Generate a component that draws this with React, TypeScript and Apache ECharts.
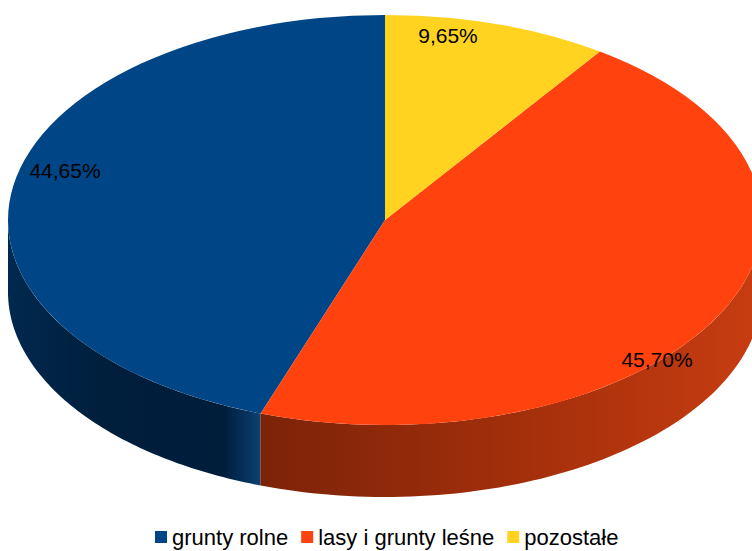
import React, { useEffect, useRef } from "react";
import * as echarts from "echarts";

// ---- data ----
const categories: string[] = ["grunty rolne", "lasy i grunty leśne", "pozostałe"];
const values: number[] = [44.65, 45.7, 9.65];

// ---- styles / layout ----
const topColors = ["#004586", "#ff420e", "#ffd320"];
const sideGradients: [number, string][][] = [
  [[0, "#00294f"], [0.35, "#001f3d"], [0.85, "#001d3a"], [0.94, "#06325c"], [1, "#0e4272"]],
  [[0, "#7c2308"], [0.3, "#922a0a"], [0.7, "#b1340c"], [1, "#c83d12"]],
  [[0, "#a08012"], [1, "#c9a318"]],
];
const CX = 385;
const CY = 220;
const RX = 377;
const RY = 205;
const DEPTH = 72;
const labelOffsets: [number, number][] = [[-320, -50], [272, 139], [63, -185]];
const FONT = '"Liberation Sans", Arial, sans-serif';
const FONT_SIZE = 21;
const LEGEND_FONT_SIZE = 22;

const total = values.reduce((a, b) => a + b, 0);

// slice i angles, measured clockwise from 12 o'clock (degrees); data goes counter-clockwise
function sliceRange(i: number): [number, number] {
  let before = 0;
  for (let k = 0; k < i; k++) before += values[k];
  const end = 360 - (before / total) * 360;
  const start = end - (values[i] / total) * 360;
  return [start, end];
}

function pt(thetaDeg: number, dy = 0): number[] {
  const t = (thetaDeg * Math.PI) / 180;
  return [CX + RX * Math.sin(t), CY - RY * Math.cos(t) + dy];
}

function fmt(v: number): string {
  return v.toFixed(2).replace(".", ",") + "%";
}

export default function App() {
  const ref = useRef<HTMLDivElement>(null);
  useEffect(() => {
    if (!ref.current) return;
    const chart = echarts.init(ref.current, undefined, { renderer: "svg" });

    const sideSeries: any = {
      type: "custom",
      name: "_sides",
      coordinateSystem: "none",
      silent: true,
      z: 1,
      data: values.map((v, i) => [v, i]),
      renderItem: (params: any, api: any) => {
        const i = params.dataIndex;
        const [s, e] = sliceRange(i);
        const a = Math.max(s, 90);
        const b = Math.min(e, 270);
        if (b <= a) return { type: "group", children: [] };
        const pts: number[][] = [];
        const n = 80;
        for (let k = 0; k <= n; k++) pts.push(pt(a + ((b - a) * k) / n));
        for (let k = n; k >= 0; k--) pts.push(pt(a + ((b - a) * k) / n, DEPTH));
        const xs = pts.map((p) => p[0]);
        const x0 = Math.min(...xs);
        const x1 = Math.max(...xs);
        return {
          type: "polygon",
          shape: { points: pts },
          style: {
            fill: new echarts.graphic.LinearGradient(
              x0, 0, x1, 0,
              sideGradients[i].map(([o, c]) => ({ offset: o, color: c })),
              true
            ),
            stroke: null,
          },
        };
      },
    };

    const topSeries: any[] = categories.map((name, i) => ({
      type: "custom",
      name,
      coordinateSystem: "none",
      silent: true,
      z: 2,
      itemStyle: { color: topColors[i] },
      data: [[values[i]]],
      renderItem: (params: any, api: any) => {
        const v = api.value(0);
        const [s, e] = sliceRange(i);
        const sa = ((s - 90) * Math.PI) / 180;
        const ea = ((e - 90) * Math.PI) / 180;
        return {
          type: "group",
          children: [
            {
              type: "group",
              x: CX,
              y: CY,
              scaleY: RY / RX,
              children: [
                {
                  type: "sector",
                  shape: { cx: 0, cy: 0, r: RX, r0: 0, startAngle: sa, endAngle: ea, clockwise: true },
                  style: { fill: topColors[i], stroke: null },
                },
              ],
            },
            {
              type: "text",
              x: CX + labelOffsets[i][0],
              y: CY + labelOffsets[i][1],
              z2: 10,
              style: {
                text: fmt(v),
                fill: "#000",
                fontSize: FONT_SIZE,
                fontFamily: FONT,
                align: "center",
                verticalAlign: "middle",
              },
            },
          ],
        };
      },
    }));

    chart.setOption({
      animation: false,
      backgroundColor: "#ffffff",
      legend: {
        data: categories,
        top: 521,
        left: 150,
        icon: "rect",
        itemWidth: 12,
        itemHeight: 12,
        itemGap: 13,
        textStyle: { fontSize: LEGEND_FONT_SIZE, fontFamily: FONT, color: "#000" },
        selectedMode: false,
      },
      series: [sideSeries, ...topSeries],
    });
    return () => chart.dispose();
  }, []);
  return (
    <div
      ref={ref}
      style={{ position: "fixed", left: 0, top: 0, width: 752, height: 551 }}
    />
  );
}
